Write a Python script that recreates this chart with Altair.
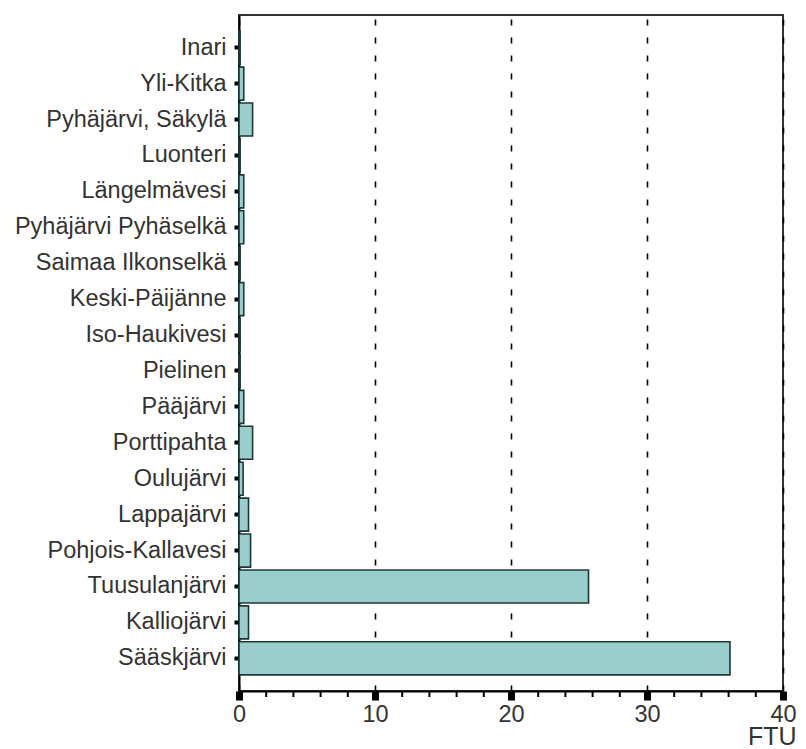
import altair as alt
import pandas as pd

lakes = ["Inari", "Yli-Kitka", "Pyhäjärvi, Säkylä", "Luonteri", "Längelmävesi",
         "Pyhäjärvi Pyhäselkä", "Saimaa Ilkonselkä", "Keski-Päijänne", "Iso-Haukivesi",
         "Pielinen", "Pääjärvi", "Porttipahta", "Oulujärvi", "Lappajärvi",
         "Pohjois-Kallavesi", "Tuusulanjärvi", "Kalliojärvi", "Sääskjärvi"]
ftu = [0.08, 0.35, 1.0, 0.08, 0.35, 0.35, 0.08, 0.35, 0.08,
       0.08, 0.35, 1.0, 0.3, 0.7, 0.85, 25.7, 0.7, 36.1]

major_ticks = [0, 10, 20, 30, 40]
minor_ticks = [2, 4, 6, 8, 12, 14, 16, 18, 22, 24, 26, 28, 32, 34, 36, 38]

W, H = 544, 676

df = pd.DataFrame({"lake": lakes, "ftu": ftu})
df_minor = pd.DataFrame({"t": minor_ticks})

xscale = alt.Scale(domain=[0, 40], nice=False, zero=True)

bars = alt.Chart(df).mark_bar(
    fill="#99CECD", stroke="#1c3838", strokeWidth=1.6
).encode(
    x=alt.X("ftu:Q", scale=xscale,
            axis=alt.Axis(values=major_ticks, title="FTU", titleFont="Liberation Sans",
                          titleFontSize=25, titleFontWeight="normal", titleColor="#333",
                          titleAnchor="end", titleAlign="right", titleBaseline="alphabetic",
                          titleX=W + 13, titleY=53,
                          labelFont="Liberation Sans", labelFontSize=23.5, labelColor="#333",
                          labelPadding=2, labelFlush=False,
                          ticks=True, tickSize=9, tickWidth=7, tickColor="black",
                          domainColor="black", domainWidth=2,
                          grid=True, gridColor="black", gridDash=[6, 12], gridWidth=1.6)),
    y=alt.Y("lake:N", sort=lakes,
            scale=alt.Scale(paddingInner=0.08, paddingOuter=0.45),
            axis=alt.Axis(title=None, labelFont="Liberation Sans", labelFontSize=23.5,
                          labelColor="#333", labelPadding=8, labelLimit=400,
                          tickSize=5, tickWidth=4,
                          tickColor="black", domainColor="black", domainWidth=2,
                          grid=False)),
)

minor = alt.Chart(df_minor).mark_rule(color="black", strokeWidth=2).encode(
    x=alt.X("t:Q", scale=xscale),
    y=alt.value(H),
    y2=alt.value(H + 6),
)

chart = alt.layer(bars, minor).properties(
    width=W, height=H,
    autosize=alt.AutoSizeParams(type="none"),
    padding={"left": 231, "top": 7, "right": 15, "bottom": 58},
    background="white",
).configure_view(stroke="#333", strokeWidth=2)

chart.save("out.html", embed_options={"renderer": "svg", "actions": False})
